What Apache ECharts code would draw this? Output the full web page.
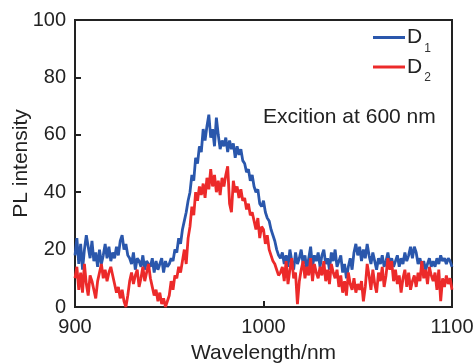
<!DOCTYPE html>
<html>
<head>
<meta charset="utf-8">
<script src="https://cdn.jsdelivr.net/npm/echarts@6/dist/echarts.min.js"></script>
<style>html,body{margin:0;padding:0;background:#fff}#c{width:474px;height:363px}</style>
</head>
<body>
<div id="c"></div>
<script>
// wavelength start/step (nm)
const wlStart = 900;
const wlStep = 1;
// D1 (blue) PL intensity, 900..1100 nm, 1 nm step
const d1 = [
  18,24,15,22,13,20,25,21,17,23,
  16,19,14,20,15,18,22,17,21,16,
  19,17,21,18,23,25,20,22,18,17,
  15,19,13,17,16,14,18,13,16,15,
  14,17,12,16,13,15,17,12,16,14,
  15,17,16,20,19,24,22,27,30,33,
  37,40,46,44,52,50,56,54,62,58,
  63,67,59,62,56,66,60,55,58,56,
  59,54,58,55,57,52,56,53,55,51,
  50,47,48,44,46,42,40,41,36,35,
  37,33,31,30,27,25,23,20,18,17,
  19,15,18,14,20,16,13,19,15,17,
  20,15,18,13,17,21,14,18,16,19,
  14,18,20,15,17,13,19,16,20,14,
  16,18,12,15,10,14,17,13,19,22,
  18,21,16,20,17,22,18,15,19,16,
  13,17,15,18,14,16,19,15,17,14,
  16,18,14,17,15,19,16,18,21,17,
  21,19,15,17,14,16,13,15,17,14,
  16,14,17,15,18,16,17,15,17,16,14
];
// D2 (red) PL intensity, 900..1100 nm, 1 nm step
const d2 = [
  10,14,6,12,5,15,8,4,11,9,
  6,3,9,12,15,10,13,9,12,14,
  11,8,5,7,3,6,2,0,4,9,
  12,8,11,13,7,10,14,9,12,15,
  10,7,4,6,2,5,1,3,0,2,
  4,9,6,11,10,14,12,16,20,15,
  24,28,35,32,40,37,42,39,43,38,
  45,41,48,42,46,40,44,39,45,42,
  46,49,36,33,44,40,42,38,41,37,
  38,34,36,32,33,30,27,31,24,28,
  27,22,25,20,18,16,15,13,11,12,
  14,9,16,8,13,17,10,12,1,9,
  13,16,10,14,11,17,9,15,12,10,
  14,11,16,9,13,8,15,12,10,13,
  7,11,5,9,4,12,8,6,10,5,
  8,6,9,2,7,15,11,6,13,8,
  5,12,9,14,7,11,17,13,16,9,
  13,8,11,5,10,13,7,12,6,9,
  11,7,12,9,16,10,13,8,14,11,
  9,12,6,13,2,10,7,11,8,10,6
];
const seriesNames = ['D1', 'D2'];
const xTicks = [900, 1000, 1100];
const yTicks = [0, 20, 40, 60, 80, 100];
const annotation = 'Excition at 600 nm';

const toPairs = arr => arr.map((v, i) => [wlStart + i * wlStep, v]);
const FONT = '"Liberation Sans", Arial, sans-serif';
const chart = echarts.init(document.getElementById('c'), null, {renderer: 'canvas'});
chart.setOption({
  animation: false,
  grid: {left: 75, right: 22, top: 20, bottom: 56, containLabel: false, outerBoundsMode: 'none',
         show: true, borderColor: '#222', borderWidth: 2},
  legend: {
    left: 373, top: 27, padding: 0, orient: 'vertical', itemWidth: 32, itemHeight: 3, itemGap: 2,
    icon: 'rect',
    data: seriesNames,
    formatter: n => '{d|D}{s|' + n.slice(1) + '}',
    textStyle: {
      fontFamily: FONT, color: '#222', padding: [0, 0, 0, -3],
      rich: {
        d: {fontSize: 21, fontFamily: FONT, color: '#222', lineHeight: 22, verticalAlign: 'middle'},
        s: {fontSize: 12, fontFamily: FONT, color: '#333', lineHeight: 12, verticalAlign: 'bottom', padding: [0, 0, -6, 2]}
      }
    }
  },
  graphic: [{
    type: 'text', left: 263, top: 107,
    style: {text: annotation, fontSize: 21, fontFamily: FONT, fill: '#222'}
  }],
  xAxis: {
    type: 'value', min: xTicks[0], max: xTicks[xTicks.length - 1], interval: 100,
    name: 'Wavelength/nm', nameLocation: 'middle', nameGap: 36, nameMoveOverlap: false,
    nameTextStyle: {fontSize: 21, fontFamily: FONT, color: '#222'},
    axisLine: {lineStyle: {color: '#222', width: 2}},
    axisTick: {inside: true, length: 6, lineStyle: {color: '#222', width: 2}},
    axisLabel: {fontSize: 20, fontFamily: FONT, color: '#222', margin: 10, formatter: v => String(v)},
    splitLine: {show: false}
  },
  yAxis: {
    type: 'value', min: yTicks[0], max: yTicks[yTicks.length - 1], interval: 20,
    name: 'PL intensity', nameLocation: 'middle', nameGap: 43, nameMoveOverlap: false,
    nameTextStyle: {fontSize: 21, fontFamily: FONT, color: '#222'},
    axisLine: {lineStyle: {color: '#222', width: 2}},
    axisTick: {inside: true, length: 6, lineStyle: {color: '#222', width: 2}},
    axisLabel: {fontSize: 20, fontFamily: FONT, color: '#222', margin: 9},
    splitLine: {show: false}
  },
  series: [
    {name: seriesNames[0], type: 'line', data: toPairs(d1), showSymbol: false, symbol: 'none',
     lineStyle: {color: '#2a57ac', width: 2.8}, itemStyle: {color: '#2a57ac'}},
    {name: seriesNames[1], type: 'line', data: toPairs(d2), showSymbol: false, symbol: 'none',
     lineStyle: {color: '#ec2a2a', width: 2.8}, itemStyle: {color: '#ec2a2a'}}
  ]
});
</script>
</body>
</html>
